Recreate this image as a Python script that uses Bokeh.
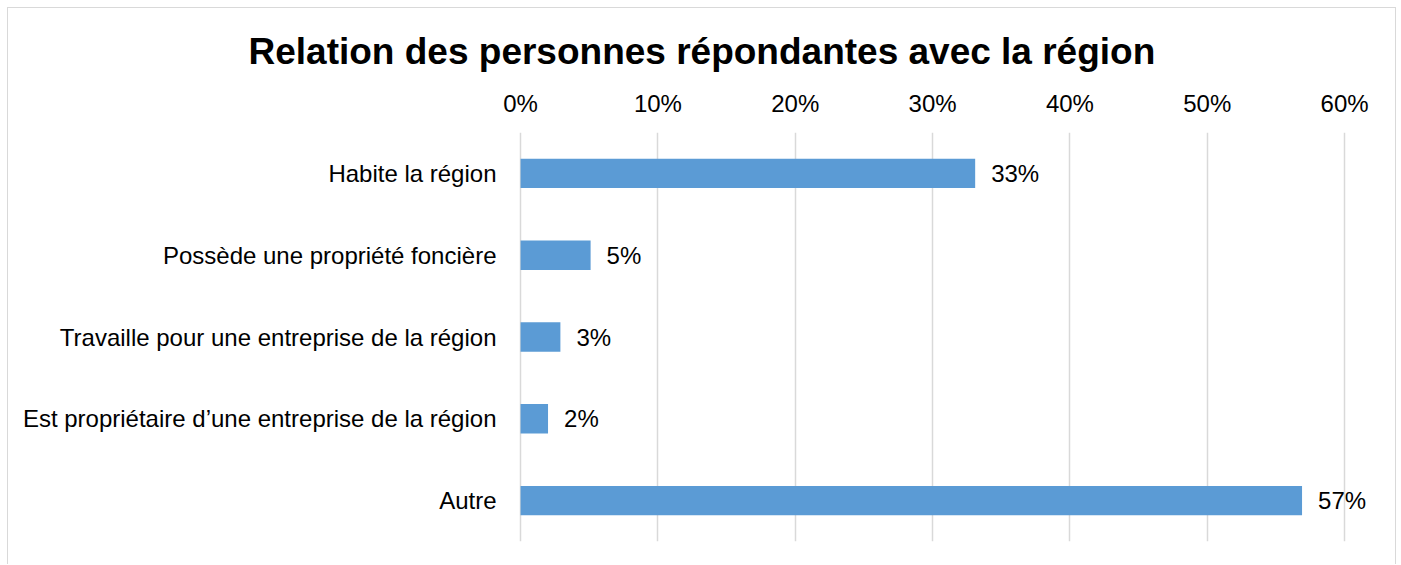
from bokeh.plotting import figure
from bokeh.models import ColumnDataSource, FactorRange, FixedTicker, PrintfTickFormatter, Range1d
from bokeh.core.properties import value as pv
from bokeh.embed import file_html
from bokeh.resources import INLINE

categories = [
    "Habite la région",
    "Possède une propriété foncière",
    "Travaille pour une entreprise de la région",
    "Est propriétaire d\u2019une entreprise de la région",
    "Autre",
]
values = [33.1, 5.1, 2.9, 2.0, 56.9]
labels = ["33%", "5%", "3%", "2%", "57%"]
tick_values = [0, 10, 20, 30, 40, 50, 60]

source = ColumnDataSource(dict(cat=categories, val=values, lab=labels))

FONT = "Liberation Sans"

p = figure(
    width=1389, height=557,
    y_range=FactorRange(*reversed(categories), range_padding=0),
    x_range=Range1d(-0.15, 63.85),
    x_axis_location="above",
    output_backend="svg", toolbar_location=None,
    min_border_left=510, min_border_right=0, min_border_top=124, min_border_bottom=24,
    title="Relation des personnes répondantes avec la région",
)
p.styles = {"margin-left": "7px", "margin-top": "7px",
            "border-top": "1px solid #d9d9d9", "border-left": "1px solid #d9d9d9",
            "border-right": "1px solid #d9d9d9"}

p.title.align = "left"
p.title.offset = -270
p.title.text_font = FONT
p.title.text_font_size = "37px"
p.title.text_font_style = "bold"
p.title.text_color = "#000000"
p.title.standoff = 30

p.hbar(y="cat", right="val", left=0, height=0.36, source=source,
       fill_color="#5B9BD5", line_color=None)
p.text(x="val", y="cat", text="lab", source=source, x_offset=16,
       text_align="left", text_baseline="middle", text_font=pv(FONT),
       text_font_size="24px", text_color="#000000")

p.xaxis.ticker = FixedTicker(ticks=tick_values)
p.xaxis.formatter = PrintfTickFormatter(format="%d%%")
p.xaxis.axis_line_color = None
p.xaxis.major_tick_line_color = None
p.xaxis.minor_tick_line_color = None
p.xaxis.major_tick_in = 0
p.xaxis.major_tick_out = 0
p.xaxis.major_label_standoff = 16
p.xaxis.major_label_text_font = FONT
p.xaxis.major_label_text_font_size = "24px"
p.xaxis.major_label_text_color = "#000000"

p.yaxis.axis_line_color = None
p.yaxis.major_tick_line_color = None
p.yaxis.major_tick_in = 0
p.yaxis.major_tick_out = 0
p.yaxis.major_label_standoff = 22
p.yaxis.major_label_text_font = FONT
p.yaxis.major_label_text_font_size = "24px"
p.yaxis.major_label_text_color = "#000000"

p.xgrid.ticker = FixedTicker(ticks=tick_values)
p.xgrid.grid_line_color = "#d9d9d9"
p.xgrid.grid_line_width = 1.5
p.ygrid.grid_line_color = None
p.outline_line_color = None

open("out.html", "w").write(file_html(p, INLINE))
